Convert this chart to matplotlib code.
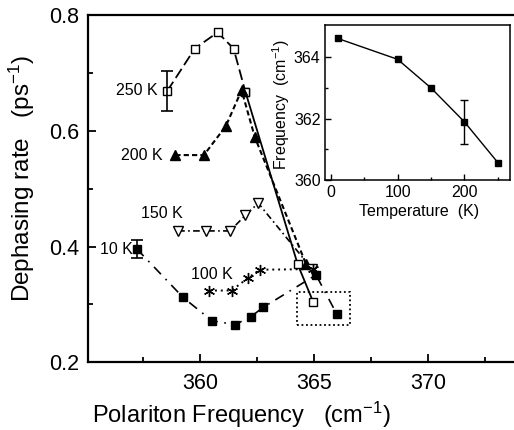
import numpy as np
import matplotlib
matplotlib.use('Agg')
from matplotlib import pyplot as plt
from matplotlib.patches import Rectangle

plt.rcParams['font.family'] = ['Liberation Sans', 'DejaVu Sans']
plt.rcParams['mathtext.fontset'] = 'custom'
plt.rcParams['mathtext.rm'] = 'Liberation Sans'
plt.rcParams['mathtext.it'] = 'Liberation Sans:italic'

# dephasing rate vs polariton frequency, one series per temperature
f250 = [358.58, 359.78, 360.78, 361.48, 362.00, 364.29, 364.97]
g250 = [0.669, 0.742, 0.770, 0.742, 0.667, 0.369, 0.304]
err250 = 0.035

f200 = [358.93, 360.18, 361.14, 361.83, 362.41, 364.65]
g200 = [0.558, 0.558, 0.608, 0.670, 0.589, 0.370]

f150 = [359.05, 360.29, 361.32, 362.00, 362.56, 364.90]
g150 = [0.427, 0.427, 0.427, 0.454, 0.475, 0.362]

f100 = [360.41, 361.39, 362.12, 362.63, 364.97]
g100 = [0.324, 0.324, 0.346, 0.360, 0.361]

f10 = [357.24, 359.27, 360.53, 361.54, 362.24, 362.78, 365.09, 365.99]
g10 = [0.396, 0.312, 0.272, 0.265, 0.279, 0.295, 0.351, 0.284]
err10 = 0.015

# inset: frequency vs temperature
temp = [10, 100, 150, 200, 250]
freq = [364.6, 363.92, 362.99, 361.89, 360.57]
freq_err = 0.72

labels = ['250 K', '200 K', '150 K', '100 K', '10 K']
label_pos = [(358.16, 0.669), (358.37, 0.558), (359.27, 0.457), (361.46, 0.351), (357.08, 0.395)]

fig = plt.figure(figsize=(5.14, 4.30), dpi=100)
ax = fig.add_axes([0.171, 0.1574, 0.829, 0.8077])

ax.plot(f250[:5], g250[:5], color='k', lw=1.3, ls=(0, (6, 2.5)),
        marker='s', ms=6, mfc='white', mec='k', mew=1)
ax.plot(f250[4:], g250[4:], color='k', lw=1.3, ls='-',
        marker='s', ms=6, mfc='white', mec='k', mew=1)
ax.errorbar(f250[0], g250[0], yerr=err250, fmt='none', ecolor='k', elinewidth=1.2, capsize=4, capthick=1.2)

ax.plot(f200, g200, color='k', lw=1.5, ls=(0, (2.5, 1.5)),
        marker='^', ms=7, mfc='k', mec='k')

ax.plot(f150, g150, color='k', lw=1.2, ls=(0, (4, 2, 1, 2)),
        marker='v', ms=7, mfc='white', mec='k', mew=1)

ax.plot(f100, g100, color='k', lw=1.4, ls=(0, (1, 2)),
        marker=(6, 2, 0), ms=8, mec='k', mew=1)

ax.plot(f10, g10, color='k', lw=1.2, ls=(0, (6, 4, 1, 4)),
        marker='s', ms=5.5, mfc='k', mec='k')
ax.errorbar(f10[0], g10[0], yerr=err10, fmt='none', ecolor='k', elinewidth=1.2, capsize=4, capthick=1.2)

for txt, (x, y) in zip(labels, label_pos):
    ax.text(x, y, txt, ha='right', va='center', fontsize=11.5)

ax.add_patch(Rectangle((364.26, 0.264), 2.3, 0.057, fill=False, ec='k', lw=1.3, ls=(0, (1, 1.5))))

ax.set_xlim(355.1, 373.76)
ax.set_ylim(0.2, 0.8)
ax.set_xticks([360, 365, 370])
ax.set_xticks([357.5, 362.5, 367.5, 372.5], minor=True)
ax.set_yticks([0.2, 0.4, 0.6, 0.8])
ax.set_yticks([0.3, 0.5, 0.7], minor=True)
ax.tick_params(which='both', direction='in', width=1.3, labelsize=15.5)
ax.tick_params(which='major', length=6)
ax.tick_params(which='minor', length=3.5)
ax.tick_params(axis='x', pad=8)
ax.tick_params(axis='y', pad=6)
ax.spines['right'].set_visible(False)
for s in ['left', 'bottom', 'top']:
    ax.spines[s].set_linewidth(1.6)

ax.set_xlabel('Polariton Frequency   (cm$^{-1}$)', fontsize=17)
ax.xaxis.set_label_coords(0.359, -0.108)
ax.set_ylabel('Dephasing rate   (ps$^{-1}$)', fontsize=17.5)
ax.yaxis.set_label_coords(-0.12, 0.53)

# inset
ins = fig.add_axes([0.632, 0.581, 0.360, 0.362])
ins.plot(temp, freq, color='k', lw=1, marker='s', ms=5, mfc='k', mec='k')
ins.errorbar(temp[3], freq[3], yerr=freq_err, fmt='none', ecolor='k', elinewidth=1, capsize=3, capthick=1)
ins.set_xlim(-9, 268)
ins.set_ylim(360, 365.05)
ins.set_xticks([0, 100, 200])
ins.set_xticks([50, 150, 250], minor=True)
ins.set_yticks([360, 362, 364])
ins.set_yticks([361, 363], minor=True)
ins.tick_params(which='both', direction='in', width=1, labelsize=11.5)
ins.tick_params(which='major', length=4)
ins.tick_params(which='minor', length=2.5)
ins.tick_params(axis='x', pad=3.5)
ins.tick_params(axis='y', pad=3)
for s in ins.spines.values():
    s.set_linewidth(1.1)
ins.set_xlabel('Temperature  (K)', fontsize=11.5)
ins.xaxis.set_label_coords(0.508, -0.155)
ins.set_ylabel('Frequency  (cm$^{-1}$)', fontsize=11.5)
ins.yaxis.set_label_coords(-0.178, 0.485)

fig.savefig('out.png', dpi=100)
